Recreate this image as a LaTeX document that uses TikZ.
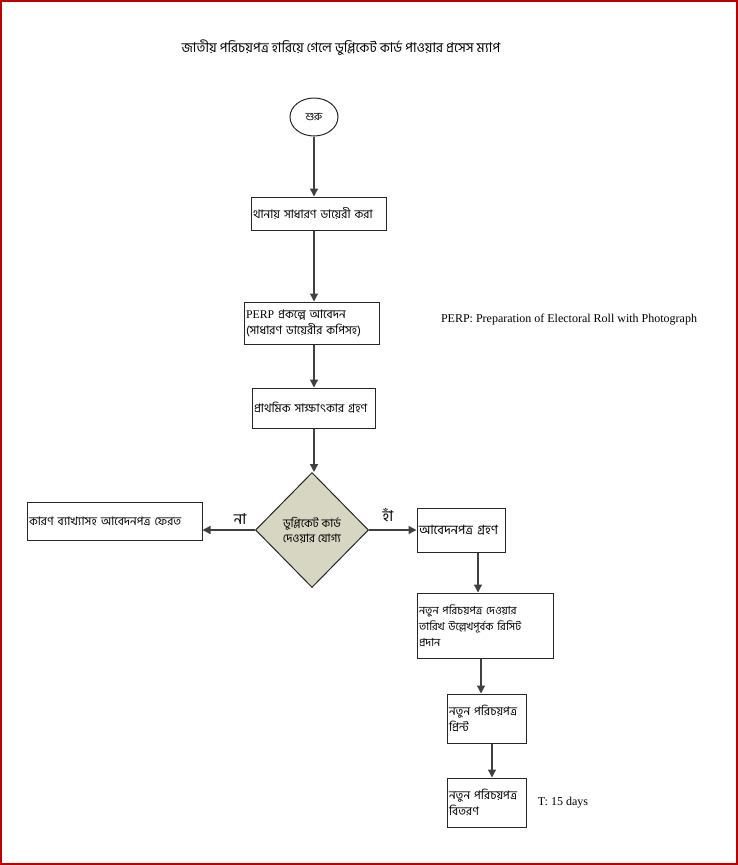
\documentclass[tikz,border=0pt]{standalone}
\usepackage{fontspec}
\setmainfont{Liberation Serif}
\newfontfamily\bnfont[Script=Bengali]{Hind Siliguri}
\usetikzlibrary{shapes.geometric,arrows.meta}

\begin{document}
\begin{tikzpicture}
  [ 
    x=1pt, y=-1pt,
    cell/.style={draw=black!85, line width=1pt, align=left, inner sep=2pt,
    font=\bnfont\fontsize{11.8}{16}\selectfont},
    ld/.style={draw=black!75, line width=1.3pt, -{Triangle[length=8pt,width=8pt]}}
  ]
  \useasboundingbox (0,0) rectangle (738,865);
  \draw [red!75!black, line width=2pt] (1,1) rectangle (737,864);

  \node (cTitle) at (341,48) {\bnfont\fontsize{13.5}{16}\selectfont জাতীয় পরিচয়পত্র হারিয়ে গেলে ডুপ্লিকেট কার্ড পাওয়ার প্রসেস ম্যাপ};
  \node (cPerpNote) at (569,320) {\fontsize{12}{14}\selectfont PERP: Preparation of Electoral Roll with Photograph};
  \node (cDays) at (563,803) {\fontsize{12}{14}\selectfont T: 15 days};

  \node (cStart)     at (314,117)   [ellipse, draw=black!85, line width=1pt, minimum width=48, minimum height=38, inner sep=0pt, font=\bnfont\fontsize{11}{12}\selectfont] {শুরু};
  \node (cDiary)     at (318.5,213.5) [cell, text width=131, minimum height=33] {থানায় সাধারণ ডায়েরী করা};
  \node (cApply)     at (311.5,323) [cell, text width=131, minimum height=42] {\rmfamily PERP \bnfont প্রকল্পে আবেদন\\(সাধারণ ডায়েরীর কপিসহ)};
  \node (cInterview) at (313.5,408) [cell, text width=119, minimum height=40] {প্রাথমিক সাক্ষাৎকার গ্রহণ};
  \node (cCheck)     at (312,530)   [diamond, draw=black!85, line width=1pt, fill={rgb,255:red,214;green,214;blue,194},
    minimum width=113, minimum height=115, inner sep=0pt, align=center, font=\bnfont\fontsize{11.6}{15}\selectfont] {ডুপ্লিকেট কার্ড\\দেওয়ার যোগ্য};
  \node (cReturn)    at (114.5,521) [cell, text width=171, minimum height=38] {কারণ ব্যাখ্যাসহ আবেদনপত্র ফেরত};
  \node (cAccept)    at (461,530)   [cell, text width=84, minimum height=44, font=\bnfont\fontsize{12.8}{16}\selectfont] {আবেদনপত্র গ্রহণ};
  \node (cReceipt)   at (485,625.5) [cell, text width=132, minimum height=65, font=\bnfont\fontsize{11}{16}\selectfont] {নতুন পরিচয়পত্র দেওয়ার\\তারিখ উল্লেখপূর্বক রিসিট\\প্রদান};
  \node (cPrint)     at (486.5,718.5) [cell, text width=75, minimum height=49] {নতুন পরিচয়পত্র\\প্রিন্ট};
  \node (cDeliver)   at (486.5,802.5) [cell, text width=75, minimum height=49] {নতুন পরিচয়পত্র\\বিতরণ};

  \node (cNo)  at (240,519) {\bnfont\fontsize{15}{17}\selectfont না};
  \node (cYes) at (388,515) {\bnfont\fontsize{15}{17}\selectfont হাঁ};

  \draw [ld] (cStart.south) -- (cStart.south |- cDiary.north);
  \draw [ld] (cStart.south |- cDiary.south) -- (cStart.south |- cApply.north);
  \draw [ld] (cStart.south |- cApply.south) -- (cStart.south |- cInterview.north);
  \draw [ld] (cStart.south |- cInterview.south) -- (cStart.south |- cCheck.north);
  \draw [ld] (cCheck.west) -- (cReturn.east |- cCheck.west);
  \draw [ld] (cCheck.east) -- (cAccept.west |- cCheck.east);
  \draw [ld] ([xshift=17pt]cAccept.south) -- ([xshift=17pt]cAccept.south |- cReceipt.north);
  \draw [ld] ([xshift=-4pt]cReceipt.south) -- ([xshift=-4pt]cReceipt.south |- cPrint.north);
  \draw [ld] ([xshift=5.5pt]cPrint.south) -- ([xshift=5.5pt]cPrint.south |- cDeliver.north);
\end{tikzpicture}
\end{document}
